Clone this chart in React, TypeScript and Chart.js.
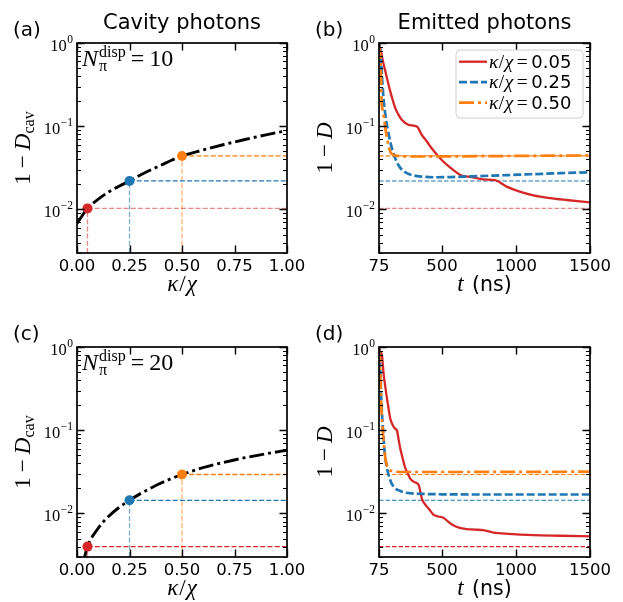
import React, { useEffect, useRef } from 'react';
import { Chart, registerables } from 'chart.js';
Chart.register(...registerables);

// ---------------- data ----------------
const kappaGridN10 = [0, 0.05, 0.1, 0.15, 0.2, 0.25, 0.3, 0.35, 0.4, 0.45, 0.5, 0.6, 0.7, 0.8, 0.9, 1.0];
const cavityLossN10 = [0.0068, 0.0103, 0.0132, 0.0162, 0.019, 0.022, 0.0258, 0.0298, 0.034, 0.039, 0.044, 0.0518, 0.0603, 0.0693, 0.0789, 0.0887];
const kappaGridN20 = [0.03, 0.05, 0.1, 0.15, 0.2, 0.25, 0.3, 0.35, 0.4, 0.45, 0.5, 0.6, 0.7, 0.8, 0.9, 1.0];
const cavityLossN20 = [0.0026, 0.004, 0.0066, 0.0092, 0.0118, 0.0144, 0.0172, 0.0201, 0.0232, 0.0263, 0.0294, 0.0355, 0.0412, 0.0468, 0.0522, 0.0575];

const markerKappa = [0.05, 0.25, 0.5];
const markerLossN10 = [0.0103, 0.022, 0.044];
const markerLossN20 = [0.004, 0.0144, 0.0294];
const legendKappaLabels = ['0.05', '0.25', '0.50'];

// panel (b): N = 10
const tRedN10 = [75, 84, 100, 118, 135, 151, 168, 185, 207, 230, 275, 331, 365, 397, 432, 500, 555, 624, 700, 779, 858, 937, 1020, 1117, 1230, 1342, 1500];
const lossRedN10 = [0.97, 0.87, 0.62, 0.456, 0.34, 0.262, 0.205, 0.165, 0.137, 0.119, 0.104, 0.099, 0.078, 0.066, 0.054, 0.039, 0.032, 0.026, 0.0245, 0.023, 0.0225, 0.0188, 0.0165, 0.0148, 0.0137, 0.013, 0.0122];
const tBlueN10 = [75, 80, 84, 90, 97, 105, 118, 135, 151, 168, 185, 207, 230, 260, 297, 365, 450, 555, 700, 892, 1100, 1300, 1500];
const lossBlueN10 = [0.97, 0.9, 0.8, 0.55, 0.35, 0.22, 0.137, 0.09, 0.065, 0.05, 0.041, 0.034, 0.03, 0.0275, 0.0259, 0.0248, 0.0244, 0.0245, 0.025, 0.0257, 0.0265, 0.0273, 0.028];
const tOrangeN10 = [75, 80, 84, 88, 93, 100, 109, 118, 130, 140, 151, 165, 185, 220, 300, 500, 800, 1100, 1500];
const lossOrangeN10 = [0.97, 0.85, 0.65, 0.45, 0.19, 0.155, 0.125, 0.095, 0.07, 0.058, 0.0495, 0.046, 0.0445, 0.0437, 0.0433, 0.0434, 0.0437, 0.0441, 0.0446];

// panel (d): N = 20
const tRedN20 = [75, 82, 95, 107, 118, 129, 140, 151, 168, 185, 196, 207, 219, 236, 253, 270, 287, 304, 321, 343, 355, 365, 387, 410, 442, 475, 510, 545, 577, 620, 667, 720, 779, 850, 950, 1117, 1300, 1500];
const lossRedN20 = [0.97, 0.9, 0.79, 0.46, 0.33, 0.24, 0.18, 0.138, 0.115, 0.104, 0.1, 0.078, 0.06, 0.045, 0.035, 0.03, 0.026, 0.0245, 0.0235, 0.022, 0.018, 0.015, 0.0128, 0.0115, 0.0097, 0.0092, 0.0089, 0.0079, 0.0072, 0.0067, 0.0065, 0.0064, 0.0063, 0.0059, 0.0057, 0.0055, 0.0054, 0.0053];
const tBlueN20 = [75, 82, 88, 95, 104, 113, 125, 140, 160, 185, 220, 253, 300, 365, 500, 800, 1100, 1500];
const lossBlueN20 = [0.97, 0.6, 0.3, 0.16, 0.09, 0.055, 0.038, 0.029, 0.023, 0.02, 0.0186, 0.0178, 0.0174, 0.0172, 0.017, 0.0169, 0.0169, 0.0169];
const tOrangeN20 = [75, 80, 85, 90, 96, 102, 110, 118, 128, 140, 160, 185, 250, 500, 1000, 1500];
const lossOrangeN20 = [0.97, 0.7, 0.4, 0.2, 0.13, 0.09, 0.062, 0.046, 0.038, 0.034, 0.0325, 0.0318, 0.0315, 0.0315, 0.0316, 0.0318];

// axes
const kappaRange = [0, 1];
const timeRange = [75, 1500];
const lossRange = [0.003, 1];
const kappaTicks = [0, 0.25, 0.5, 0.75, 1];
const kappaTickLabels = ['0.00', '0.25', '0.50', '0.75', '1.00'];
const timeTicks = [75, 500, 1000, 1500];
const timeTickLabels = ['75', '500', '1000', '1500'];
const logTicks = [1, 0.1, 0.01];
const logTickExponents = ['0', '\u22121', '\u22122'];

// ---------------- styling ----------------
const RED = '#d62728';
const BLUE = '#1f77b4';
const ORANGE = '#ff7f0e';
const RED_LIGHT = 'rgba(214,39,40,0.55)';
const BLUE_LIGHT = 'rgba(31,119,180,0.6)';
const ORANGE_LIGHT = 'rgba(255,127,14,0.6)';
const SERIF = '"Liberation Serif"';
const SANS = '"DejaVu Sans"';

type Run = { t?: string; f?: string; dy?: number; gap?: number; stack?: { t: string; f: string; dy: number }[] };

function runsWidth(ctx: CanvasRenderingContext2D, runs: Run[]) {
  let w = 0;
  for (const r of runs) {
    if (r.gap) { w += r.gap; continue; }
    if (r.stack) {
      let m = 0;
      for (const s of r.stack) { ctx.font = s.f; m = Math.max(m, ctx.measureText(s.t).width); }
      w += m;
    } else { ctx.font = r.f!; w += ctx.measureText(r.t!).width; }
  }
  return w;
}
function drawRuns(ctx: CanvasRenderingContext2D, runs: Run[], x: number, y: number) {
  ctx.textAlign = 'left';
  for (const r of runs) {
    if (r.gap) { x += r.gap; continue; }
    if (r.stack) {
      let m = 0;
      for (const s of r.stack) { ctx.font = s.f; ctx.fillText(s.t, x, y + s.dy); m = Math.max(m, ctx.measureText(s.t).width); }
      x += m;
    } else {
      ctx.font = r.f!; ctx.fillText(r.t!, x, y + (r.dy || 0)); x += ctx.measureText(r.t!).width;
    }
  }
  return x;
}

type Spec = {
  id: string; left: number; top: number; width: number; height: number;
  pad: { left: number; top: number; right: number; bottom: number };
  kind: 'cavity' | 'emitted'; letter: string; title?: string; nDisp?: string; legend?: boolean;
  markers: number[]; refColors: { h: string; v: string }[];
  curve?: { x: number[]; y: number[] };
  series?: { x: number[]; y: number[] }[];
};

const pts = (xs: number[], ys: number[]) => xs.map((x, i) => ({ x, y: ys[i] }));

function decorPlugin(spec: Spec) {
  return {
    id: 'decor-' + spec.id,
    afterDraw(chart: any) {
      const ctx: CanvasRenderingContext2D = chart.ctx;
      const ca = chart.chartArea;
      const xs = chart.scales.x, ys = chart.scales.y;
      const cx = (ca.left + ca.right) / 2, cy = (ca.top + ca.bottom) / 2;
      ctx.save();
      ctx.fillStyle = '#000';
      ctx.strokeStyle = '#000';
      // ticks
      ctx.lineWidth = 1.1;
      const [lo, hi] = lossRange;
      for (let e = -3; e <= -1; e++) {
        for (let m = 2; m <= 9; m++) {
          const v = m * Math.pow(10, e);
          if (v < lo || v > hi) continue;
          const py = Math.round(ys.getPixelForValue(v)) + 0.5;
          ctx.beginPath();
          ctx.moveTo(ca.left, py); ctx.lineTo(ca.left + 4, py);
          ctx.moveTo(ca.right, py); ctx.lineTo(ca.right - 4, py);
          ctx.stroke();
        }
      }
      ctx.lineWidth = 1.4;
      for (const v of logTicks) {
        const py = Math.round(ys.getPixelForValue(v)) + 0.5;
        ctx.beginPath();
        ctx.moveTo(ca.left, py); ctx.lineTo(ca.left + 7.5, py);
        ctx.moveTo(ca.right, py); ctx.lineTo(ca.right - 7.5, py);
        ctx.stroke();
      }
      const xt = spec.kind === 'cavity' ? kappaTicks : timeTicks;
      const xl = spec.kind === 'cavity' ? kappaTickLabels : timeTickLabels;
      for (const v of xt) {
        const px = Math.round(xs.getPixelForValue(v)) + 0.5;
        ctx.beginPath();
        ctx.moveTo(px, ca.bottom); ctx.lineTo(px, ca.bottom - 7.5);
        ctx.moveTo(px, ca.top); ctx.lineTo(px, ca.top + 7.5);
        ctx.stroke();
      }
      // frame
      ctx.lineWidth = 1.7;
      ctx.strokeRect(ca.left, ca.top, ca.right - ca.left, ca.bottom - ca.top);

      // x tick labels
      ctx.font = `16.5px ${SANS}`;
      ctx.textAlign = 'center';
      ctx.textBaseline = 'top';
      xt.forEach((v, i) => ctx.fillText(xl[i], xs.getPixelForValue(v), ca.bottom + 5));
      // y tick labels
      ctx.textBaseline = 'middle';
      logTicks.forEach((v, i) => {
        const py = ys.getPixelForValue(v);
        const xr = ca.left - 4;
        ctx.font = `11.5px ${SERIF}`;
        ctx.textAlign = 'right';
        const ew = ctx.measureText(logTickExponents[i]).width;
        ctx.fillText(logTickExponents[i], xr, py - 3.5);
        ctx.font = `16.5px ${SERIF}`;
        ctx.fillText('10', xr - ew - 0.5, py + 3.5);
      });

      ctx.textBaseline = 'alphabetic';
      // x label
      const xRuns: Run[] = spec.kind === 'cavity'
        ? [{ t: '\u03ba', f: `italic 23px ${SERIF}` }, { gap: 1 }, { t: '/', f: `23px ${SERIF}` }, { gap: 1 }, { t: '\u03c7', f: `italic 23px ${SERIF}` }]
        : [{ t: 't', f: `italic 23px ${SERIF}` }, { gap: 2 }, { t: ' (ns)', f: `20.5px ${SANS}` }];
      drawRuns(ctx, xRuns, cx - runsWidth(ctx, xRuns) / 2, ca.bottom + 38);

      // y label (rotated)
      const yRuns: Run[] = spec.kind === 'cavity'
        ? [{ t: '1', f: `23px ${SERIF}` }, { gap: 5 }, { t: '\u2212', f: `23px ${SERIF}` }, { gap: 5 }, { t: 'D', f: `italic 23px ${SERIF}` }, { t: 'cav', f: `16px ${SERIF}`, dy: 4 }]
        : [{ t: '1', f: `23px ${SERIF}` }, { gap: 5 }, { t: '\u2212', f: `23px ${SERIF}` }, { gap: 5 }, { t: 'D', f: `italic 23px ${SERIF}` }];
      ctx.save();
      ctx.translate(ca.left - 55, cy);
      ctx.rotate(-Math.PI / 2);
      drawRuns(ctx, yRuns, -runsWidth(ctx, yRuns) / 2, 8);
      ctx.restore();

      // panel letter & title
      ctx.font = `20px ${SANS}`;
      ctx.textAlign = 'left';
      ctx.fillText(spec.letter, ca.left - 64, ca.top - 7);
      if (spec.title) {
        ctx.font = `21px ${SANS}`;
        ctx.textAlign = 'center';
        ctx.fillText(spec.title, cx, ca.top - 14);
      }
      // annotation
      if (spec.nDisp) {
        const nRuns: Run[] = [
          { t: 'N', f: `italic 24px ${SERIF}` },
          { gap: 1 },
          { stack: [{ t: 'disp', f: `16px ${SERIF}`, dy: -9 }, { t: '\u03c0', f: `16px ${SERIF}`, dy: 5 }] },
          { gap: 5 },
          { t: '=', f: `24px ${SERIF}` },
          { gap: 5 },
          { t: spec.nDisp, f: `24px ${SERIF}` },
        ];
        drawRuns(ctx, nRuns, ca.left + 5, ca.top + 23);
      }
      // legend
      if (spec.legend) {
        const bw = 127, bh = 68;
        const bx = ca.right - 7 - bw, by = ca.top + 7;
        ctx.beginPath();
        ctx.roundRect(bx, by, bw, bh, 4);
        ctx.fillStyle = 'rgba(255,255,255,0.85)';
        ctx.fill();
        ctx.strokeStyle = '#d0d0d0';
        ctx.lineWidth = 1;
        ctx.stroke();
        const styles = [
          { c: RED, d: [] as number[], w: 2.3 },
          { c: BLUE, d: [8, 3], w: 2.7 },
          { c: ORANGE, d: [15, 4, 3, 4], w: 2.7 },
        ];
        styles.forEach((s, i) => {
          const ry = by + 11.7 + i * 20.5;
          ctx.beginPath();
          ctx.setLineDash(s.d);
          ctx.strokeStyle = s.c;
          ctx.lineWidth = s.w;
          ctx.moveTo(bx + 3, ry); ctx.lineTo(bx + 31, ry);
          ctx.stroke();
          ctx.setLineDash([]);
          ctx.fillStyle = '#000';
          drawRuns(ctx, [
            { t: '\u03ba', f: `italic 19.5px ${SERIF}` }, { gap: 0.5 }, { t: '/', f: `19.5px ${SERIF}` }, { gap: 0.5 }, { t: '\u03c7', f: `italic 19.5px ${SERIF}` },
            { gap: 3.5 }, { t: '=', f: `19.5px ${SERIF}` }, { gap: 3.5 }, { t: legendKappaLabels[i], f: `18px ${SANS}` },
          ], bx + 33, ry + 6);
        });
      }
      ctx.restore();
    },
  };
}

function buildConfig(spec: Spec): any {
  const datasets: any[] = [];
  const colors = [RED, BLUE, ORANGE];
  const xMax = spec.kind === 'cavity' ? kappaRange[1] : timeRange[1];
  const xMin = spec.kind === 'cavity' ? kappaRange[0] : timeRange[0];
  const [yMin] = lossRange;
  if (spec.kind === 'cavity') {
    markerKappa.forEach((k, i) => {
      datasets.push({ data: [{ x: k, y: spec.markers[i] }], showLine: false, pointRadius: 5, pointHoverRadius: 5, pointBorderWidth: 0, backgroundColor: colors[i], order: 0 });
    });
    datasets.push({ data: pts(spec.curve!.x, spec.curve!.y), borderColor: '#000', borderWidth: 2.9, borderDash: [15, 4, 3, 4], pointRadius: 0, cubicInterpolationMode: 'monotone', order: 1 });
    markerKappa.forEach((k, i) => {
      datasets.push({ data: [{ x: k, y: spec.markers[i] }, { x: xMax, y: spec.markers[i] }], borderColor: spec.refColors[i].h, borderWidth: 1.3, borderDash: [5, 2.2], pointRadius: 0, order: 2 });
      datasets.push({ data: [{ x: k, y: yMin }, { x: k, y: spec.markers[i] }], borderColor: spec.refColors[i].v, borderWidth: 1.3, borderDash: [5, 2.2], pointRadius: 0, order: 2 });
    });
  } else {
    const st = [
      { c: RED, d: [] as number[], w: 2.3, o: 2 },
      { c: BLUE, d: [8, 3], w: 2.7, o: 1 },
      { c: ORANGE, d: [15, 4, 3, 4], w: 2.7, o: 0 },
    ];
    spec.series!.forEach((s, i) => {
      datasets.push({ data: pts(s.x, s.y), borderColor: st[i].c, borderWidth: st[i].w, borderDash: st[i].d, pointRadius: 0, cubicInterpolationMode: 'monotone', order: st[i].o });
    });
    markerKappa.forEach((_, i) => {
      datasets.push({ data: [{ x: xMin, y: spec.markers[i] }, { x: xMax, y: spec.markers[i] }], borderColor: spec.refColors[i].h, borderWidth: 1.1, borderDash: [4.5, 2], pointRadius: 0, order: 3 });
    });
  }
  return {
    type: 'line',
    data: { datasets },
    options: {
      responsive: false,
      animation: false,
      events: [],
      layout: { padding: spec.pad },
      plugins: { legend: { display: false }, tooltip: { enabled: false }, title: { display: false } },
      scales: {
        x: { type: 'linear', min: xMin, max: xMax, display: false },
        y: { type: 'logarithmic', min: lossRange[0], max: lossRange[1], display: false },
      },
    },
    plugins: [decorPlugin(spec)],
  };
}

const specs: Spec[] = [
  {
    id: 'a', left: 0, top: 0, width: 311, height: 300, pad: { left: 77, top: 43, right: 24, bottom: 47 },
    kind: 'cavity', letter: '(a)', title: 'Cavity photons', nDisp: '10',
    markers: markerLossN10, curve: { x: kappaGridN10, y: cavityLossN10 },
    refColors: [{ h: RED_LIGHT, v: RED_LIGHT }, { h: BLUE, v: BLUE_LIGHT }, { h: ORANGE, v: ORANGE_LIGHT }],
  },
  {
    id: 'b', left: 311, top: 0, width: 312, height: 300, pad: { left: 68, top: 43, right: 33, bottom: 47 },
    kind: 'emitted', letter: '(b)', title: 'Emitted photons', legend: true,
    markers: markerLossN10,
    series: [{ x: tRedN10, y: lossRedN10 }, { x: tBlueN10, y: lossBlueN10 }, { x: tOrangeN10, y: lossOrangeN10 }],
    refColors: [{ h: RED_LIGHT, v: RED_LIGHT }, { h: BLUE, v: BLUE }, { h: ORANGE, v: ORANGE }],
  },
  {
    id: 'c', left: 0, top: 300, width: 311, height: 302, pad: { left: 77, top: 47, right: 24, bottom: 45 },
    kind: 'cavity', letter: '(c)', nDisp: '20',
    markers: markerLossN20, curve: { x: kappaGridN20, y: cavityLossN20 },
    refColors: [{ h: RED, v: RED_LIGHT }, { h: BLUE, v: BLUE_LIGHT }, { h: ORANGE, v: ORANGE_LIGHT }],
  },
  {
    id: 'd', left: 311, top: 300, width: 312, height: 302, pad: { left: 68, top: 47, right: 33, bottom: 45 },
    kind: 'emitted', letter: '(d)',
    markers: markerLossN20,
    series: [{ x: tRedN20, y: lossRedN20 }, { x: tBlueN20, y: lossBlueN20 }, { x: tOrangeN20, y: lossOrangeN20 }],
    refColors: [{ h: RED, v: RED }, { h: BLUE, v: BLUE }, { h: ORANGE, v: ORANGE }],
  },
];

function Panel({ spec }: { spec: Spec }) {
  const ref = useRef<HTMLCanvasElement | null>(null);
  useEffect(() => {
    if (!ref.current) return;
    const chart = new Chart(ref.current, buildConfig(spec));
    return () => chart.destroy();
  }, [spec]);
  return (
    <canvas
      ref={ref}
      width={spec.width}
      height={spec.height}
      style={{ position: 'absolute', left: spec.left, top: spec.top, width: spec.width, height: spec.height, display: 'block' }}
    />
  );
}

export default function App() {
  return (
    <div style={{ position: 'absolute', left: 0, top: 0, width: 623, height: 602, background: '#fff' }}>
      {specs.map((s) => <Panel key={s.id} spec={s} />)}
    </div>
  );
}
